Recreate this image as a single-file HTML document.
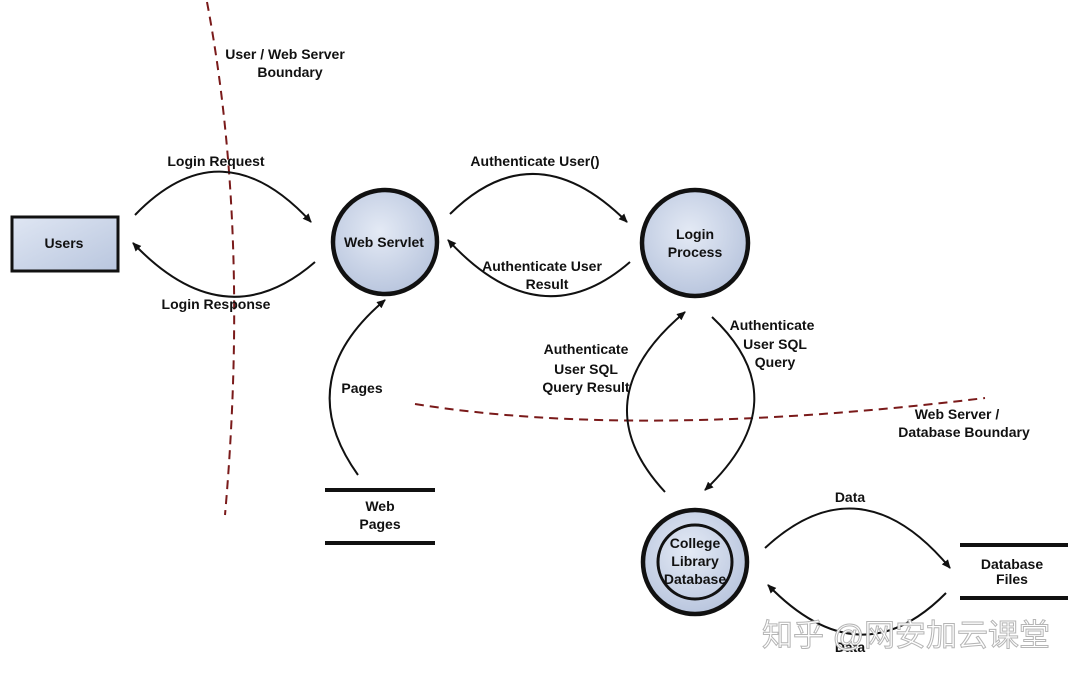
<!DOCTYPE html>
<html><head><meta charset="utf-8"><style>
html,body{margin:0;padding:0;background:#fff;}
svg{display:block;}
text{font-family:"Liberation Sans",Arial,sans-serif;font-size:14px;fill:#111;text-anchor:middle;font-weight:bold;}
</style></head><body>
<svg width="1080" height="681" viewBox="0 0 1080 681" xmlns="http://www.w3.org/2000/svg">
<defs>
<radialGradient id="g" cx="45%" cy="40%" r="65%"><stop offset="0" stop-color="#e4eaf5"/><stop offset="1" stop-color="#b6c3dc"/></radialGradient>
<linearGradient id="rg" x1="0" y1="0" x2="1" y2="1"><stop offset="0" stop-color="#dfe6f3"/><stop offset="1" stop-color="#b9c6de"/></linearGradient>
<marker id="a" markerWidth="10" markerHeight="10" refX="8" refY="5" orient="auto" markerUnits="userSpaceOnUse"><path d="M0,1 L9,5 L0,9 Z" fill="#111"/></marker>
</defs>
<path d="M207,2 Q250,230 225,515" fill="none" stroke="#7a1a1a" stroke-width="2" stroke-dasharray="9,6"/>
<path d="M415,404 Q640,440 985,398" fill="none" stroke="#7a1a1a" stroke-width="2" stroke-dasharray="9,6"/>
<text x="285" y="59">User / Web Server</text>
<text x="290" y="77">Boundary</text>
<text x="957" y="419">Web Server /</text>
<text x="964" y="437">Database Boundary</text>
<rect x="12" y="217" width="106" height="54" fill="url(#rg)" stroke="#111" stroke-width="3"/>
<text x="64" y="248">Users</text>
<circle cx="385" cy="242" r="52" fill="url(#g)" stroke="#111" stroke-width="4.5"/>
<text x="384" y="247">Web Servlet</text>
<circle cx="695" cy="243" r="53" fill="url(#g)" stroke="#111" stroke-width="4.5"/>
<text x="695" y="239">Login</text>
<text x="695" y="257">Process</text>
<circle cx="695" cy="562" r="52" fill="url(#g)" stroke="#111" stroke-width="4.5"/>
<circle cx="695" cy="562" r="37" fill="none" stroke="#111" stroke-width="3"/>
<text x="695" y="548">College</text>
<text x="695" y="566">Library</text>
<text x="695" y="584">Database</text>
<line x1="325" y1="490" x2="435" y2="490" stroke="#111" stroke-width="4"/>
<line x1="325" y1="543" x2="435" y2="543" stroke="#111" stroke-width="4"/>
<text x="380" y="511">Web</text>
<text x="380" y="529">Pages</text>
<line x1="960" y1="545" x2="1068" y2="545" stroke="#111" stroke-width="4"/>
<line x1="960" y1="598" x2="1068" y2="598" stroke="#111" stroke-width="4"/>
<text x="1012" y="569">Database</text>
<text x="1012" y="584">Files</text>
<g fill="none" stroke="#111" stroke-width="2">
<path d="M135,215 Q222,125 311,222" marker-end="url(#a)"/>
<path d="M315,262 Q225,340 133,243" marker-end="url(#a)"/>
<path d="M450,214 Q535,130 627,222" marker-end="url(#a)"/>
<path d="M630,262 Q540,340 448,240" marker-end="url(#a)"/>
<path d="M358,475 Q290,380 385,300" marker-end="url(#a)"/>
<path d="M712,317 Q800,400 705,490" marker-end="url(#a)"/>
<path d="M665,492 Q580,400 685,312" marker-end="url(#a)"/>
<path d="M765,548 Q860,460 950,568" marker-end="url(#a)"/>
<path d="M946,593 Q860,680 768,585" marker-end="url(#a)"/>
</g>
<text x="216" y="166">Login Request</text>
<text x="216" y="309">Login Response</text>
<text x="535" y="166">Authenticate User()</text>
<text x="542" y="271">Authenticate User</text>
<text x="547" y="289">Result</text>
<text x="362" y="393">Pages</text>
<text x="586" y="354">Authenticate</text>
<text x="586" y="374">User SQL</text>
<text x="586" y="392">Query Result</text>
<text x="772" y="330">Authenticate</text>
<text x="775" y="349">User SQL</text>
<text x="775" y="367">Query</text>
<text x="850" y="502">Data</text>
<text x="850" y="652">Data</text>
<text x="906" y="646" style="font-family:'Liberation Sans','Noto Sans CJK SC',sans-serif;font-size:31px;font-weight:normal;fill:#fff;stroke:#b5b5b5;stroke-width:1;">知乎 @网安加云课堂</text>
</svg>
</body></html>
